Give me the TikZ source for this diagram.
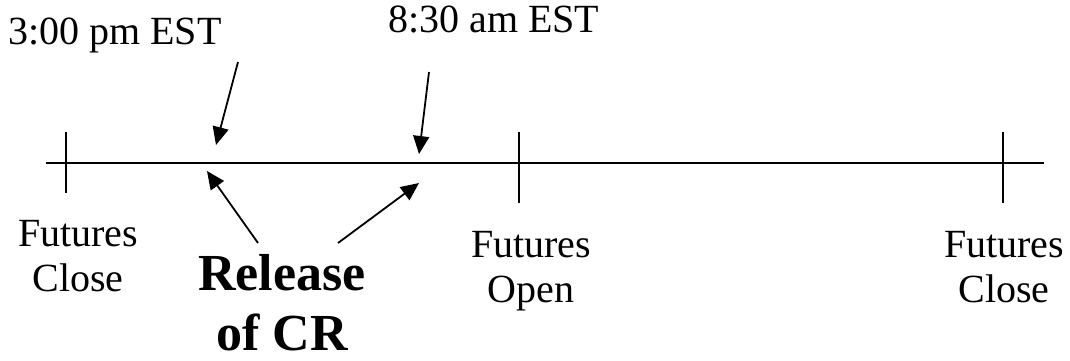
\documentclass[tikz,border=0pt]{standalone}
\usepackage{fontspec}
\setmainfont{Liberation Serif}
\usetikzlibrary{arrows.meta}
\begin{document}
\begin{tikzpicture}[x=1pt,y=-1pt,
  lbl/.style={font=\fontsize{40}{45}\selectfont, align=center, inner sep=0pt},
  big/.style={font=\fontsize{52}{60}\selectfont\bfseries, align=center, inner sep=0pt},
  tick/.style={line width=1.5pt},
  axis/.style={line width=2.2pt},
  arr/.style={line width=1.8pt, -{Triangle[length=18pt,width=16pt]}}]
\useasboundingbox (0,0) rectangle (1070,360);
\coordinate (L) at (46,163);
\coordinate (R) at (1044,163);
\draw[axis] (L) -- (R);
\coordinate (t1a) at (66,132); \coordinate (t1b) at (66,193);
\coordinate (t2a) at (519,132); \coordinate (t2b) at (519,203);
\coordinate (t3a) at (1003,132); \coordinate (t3b) at (1003,203);
\draw[tick] (t1a) -- (t1b);
\draw[tick] (t2a) -- (t2b);
\draw[tick] (t3a) -- (t3b);
\node[lbl, anchor=base west] (n3pm) at (8,44) {3:00 pm EST};
\node[lbl, anchor=base west] (n830) at (388,32) {8:30 am EST};
\coordinate (a1s) at (238,62); \coordinate (a1e) at (216,145);
\coordinate (a2s) at (429,72); \coordinate (a2e) at (419,154);
\draw[arr] (a1s) -- (a1e);
\draw[arr] (a2s) -- (a2e);
\node[lbl, anchor=base] (fc1) at (78,291) {Futures\\Close};
\node[lbl, anchor=base] (fo) at (531,302) {Futures\\Open};
\node[lbl, anchor=base] (fc2) at (1004,302) {Futures\\Close};
\node[big, anchor=base] (rel) at (282,350) {Release\\of CR};
\coordinate (b1s) at (258,243); \coordinate (b1e) at (207,171);
\coordinate (b2s) at (338,243); \coordinate (b2e) at (419,183);
\draw[arr] (b1s) -- (b1e);
\draw[arr] (b2s) -- (b2e);
\end{tikzpicture}
\end{document}
